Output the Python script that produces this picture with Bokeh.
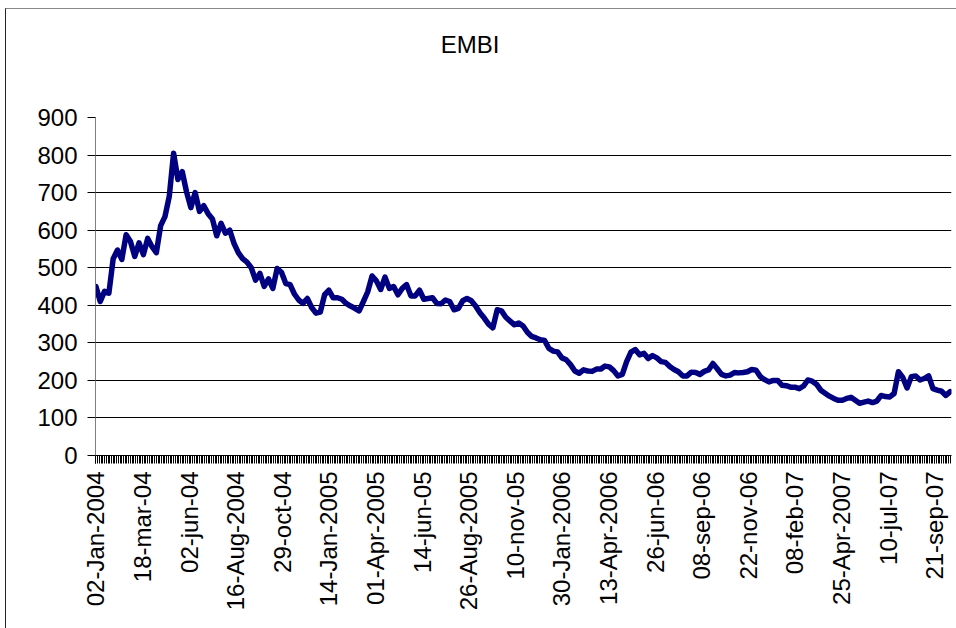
import math
from bokeh.plotting import figure
from bokeh.models import ColumnDataSource, Range1d, FixedTicker, Div
from bokeh.layouts import column
from bokeh.embed import file_html
from bokeh.resources import INLINE

# ---- data (EMBI spread, one reading per week of trading days) ----
embi_weekly = [450, 410, 437, 432, 524, 547, 522, 588, 570, 530, 566, 535, 578, 556, 540,
               612, 636, 690, 805, 735, 756, 702, 660, 700, 650, 665, 644, 630, 585, 618,
               592, 600, 565, 540, 524, 515, 500, 467, 485, 450, 470, 445, 498, 488, 458,
               455, 430, 414, 405, 418, 394, 379, 382, 428, 440, 420, 420, 416, 405, 398,
               392, 385, 410, 436, 478, 465, 442, 475, 445, 450, 428, 445, 455, 425, 425,
               440, 416, 418, 420, 405, 404, 414, 410, 388, 392, 412, 418, 412, 398, 380,
               366, 350, 340, 388, 385, 368, 358, 348, 353, 345, 328, 317, 313, 308, 306,
               285, 278, 276, 260, 255, 242, 225, 219, 228, 225, 224, 230, 230, 238, 236,
               226, 212, 216, 250, 275, 282, 268, 272, 258, 266, 260, 250, 248, 237, 229,
               223, 212, 212, 222, 221, 216, 224, 228, 245, 231, 216, 212, 214, 221, 220,
               221, 223, 229, 227, 210, 202, 196, 200, 200, 187, 186, 182, 182, 178, 185,
               201, 198, 190, 174, 166, 158, 152, 147, 147, 152, 155, 147, 139, 142, 145,
               141, 145, 160, 157, 156, 165, 223, 208, 180, 210, 212, 201, 205, 212, 178,
               174, 171, 160, 170]
days_per_point = 5          # trading days between readings
n_days = 992                # trading days on the category axis
days_per_label = 54         # a date label every 54 trading days
tick_labels = ["02-Jan-2004", "18-mar-04", "02-jun-04", "16-Aug-2004", "29-oct-04",
               "14-Jan-2005", "01-Apr-2005", "14-jun-05", "26-Aug-2005", "10-nov-05",
               "30-Jan-2006", "13-Apr-2006", "26-jun-06", "08-sep-06", "22-nov-06",
               "08-feb-07", "25-Apr-2007", "10-jul-07", "21-sep-07"]
y_ticks = [0, 100, 200, 300, 400, 500, 600, 700, 800, 900]
title_text = "EMBI"

FONT = "Liberation Sans"
FS = "24px"

day_index = [i * days_per_point for i in range(len(embi_weekly))]
src = ColumnDataSource(dict(day=day_index, embi=embi_weekly))

# page geometry: chart-area border at x=5, y=8; content starts at (6, 9)
TITLE_H = 60
FIG_W = 950
FIG_H = 628 - 9 - TITLE_H          # 559
fig_top = 9 + TITLE_H              # 69 on the page

p = figure(width=FIG_W, height=FIG_H, output_backend="svg", toolbar_location=None,
           x_range=Range1d(-0.5, n_days - 0.5), y_range=Range1d(0, 900),
           min_border_left=95 - 6, min_border_right=FIG_W - (951 - 6),
           min_border_top=117 - fig_top, min_border_bottom=fig_top + FIG_H - 455,
           margin=0)
p.outline_line_color = None
p.background_fill_color = "white"
p.border_fill_color = "white"

p.line("day", "embi", source=src, line_color="#000080", line_width=5.5,
       line_join="round", line_cap="round")

# y axis
p.yaxis.ticker = FixedTicker(ticks=y_ticks)
p.yaxis.axis_line_color = "#808080"
p.yaxis.major_tick_out = 8
p.yaxis.major_tick_in = 0
p.yaxis.minor_tick_out = 0
p.yaxis.minor_tick_in = 0
p.yaxis.major_label_standoff = 10
p.yaxis.major_label_text_font = FONT
p.yaxis.major_label_text_font_size = FS
p.yaxis.major_label_text_color = "black"
p.ygrid.ticker = FixedTicker(ticks=y_ticks)
p.ygrid.grid_line_color = "black"
p.ygrid.grid_line_width = 1

# x axis (category-like date axis)
label_pos = [i * days_per_label for i in range(len(tick_labels))]
minor = list(range(0, n_days, 2))
p.xaxis.ticker = FixedTicker(ticks=label_pos, minor_ticks=minor)
p.xaxis.major_label_overrides = {pos: lab for pos, lab in zip(label_pos, tick_labels)}
p.xaxis.major_label_orientation = math.pi / 2
p.xaxis.axis_line_color = "black"
p.xaxis.major_tick_out = 8
p.xaxis.major_tick_in = 0
p.xaxis.minor_tick_out = 8
p.xaxis.minor_tick_in = 0
p.xaxis.minor_tick_line_color = "black"
p.xaxis.major_label_standoff = 8
p.xaxis.major_label_text_font = FONT
p.xaxis.major_label_text_font_size = FS
p.xaxis.major_label_text_color = "black"
p.xgrid.grid_line_color = None

title = Div(text=("<div style=\"position:absolute; left:%dpx; top:36px; "
                  "transform:translate(-50%%,-50%%); font-family:'Liberation Sans'; "
                  "font-size:%s; white-space:nowrap; color:black; line-height:1;\">%s</div>")
                 % (470 - 6, FS, title_text),
            width=FIG_W, height=TITLE_H, margin=0,
            styles={"position": "relative"})

page = column(title, p, spacing=0, margin=(8, 0, 0, 5),
              styles={"border-left": "1px solid #222222",
                      "border-top": "1px solid #888888",
                      "background-color": "white"})

open("out.html", "w").write(file_html(page, INLINE))
